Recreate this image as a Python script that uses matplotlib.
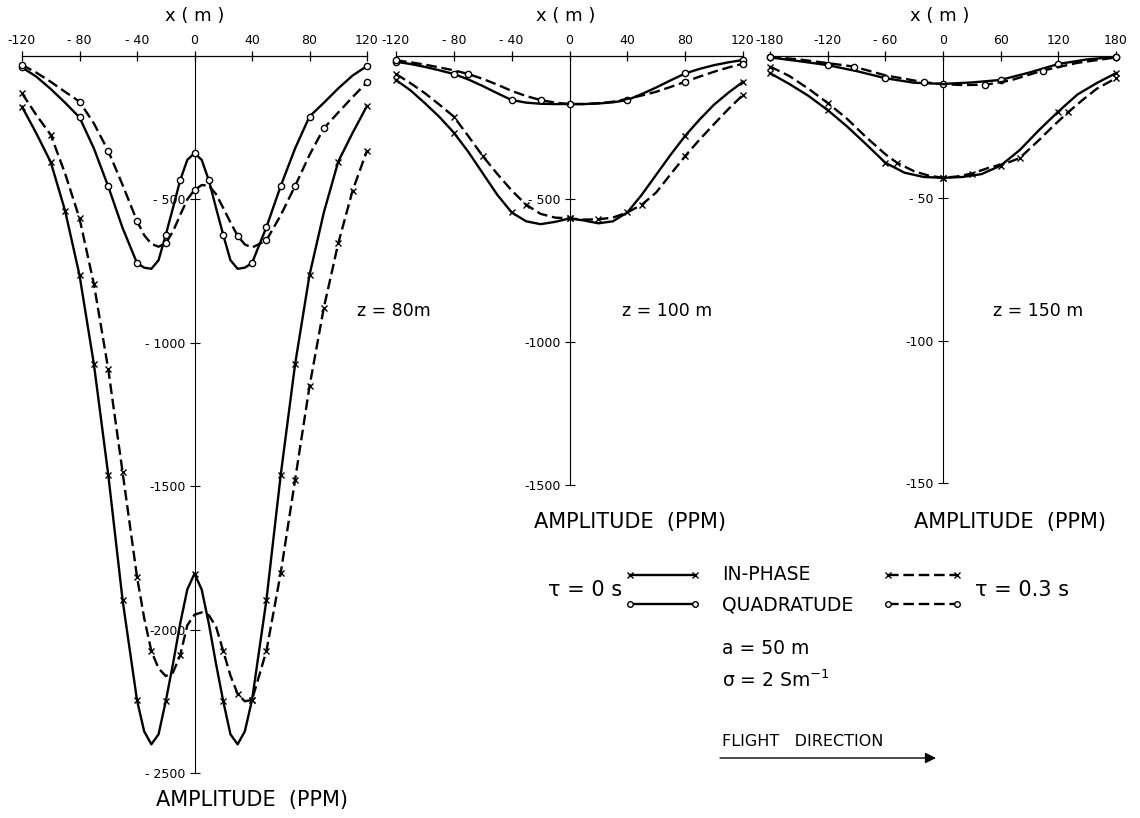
import numpy as np
import matplotlib
matplotlib.use("Agg")
import matplotlib.pyplot as plt

plt.rcParams["font.family"] = ["DejaVu Sans"]

# ---------------- z = 80 m (x in m, amplitude in ppm) ----------------
X80 = [-120, -110, -100, -90, -80, -70, -60, -50, -40, -35, -30, -25, -20, -15, -10, -5,
       0, 5, 10, 15, 20, 25, 30, 35, 40, 50, 60, 70, 80, 90, 100, 110, 120]
IP0_80 = [-177, -270, -370, -540, -764, -1074, -1460, -1898, -2246, -2355, -2400, -2365, -2250,
          -2120, -1980, -1860, -1805, -1860, -1980, -2120, -2250, -2365, -2400, -2355, -2246,
          -1898, -1460, -1074, -764, -545, -368, -268, -174]
IP3_80 = [-130, -206, -275, -410, -566, -795, -1092, -1452, -1816, -1960, -2075, -2135, -2162,
          -2150, -2090, -1985, -1948, -1940, -1950, -1990, -2075, -2160, -2224, -2250, -2245,
          -2075, -1802, -1477, -1152, -877, -653, -469, -330]
QD0_80 = [-40, -72, -115, -163, -214, -322, -455, -600, -722, -738, -742, -712, -624, -530,
          -434, -362, -339, -362, -434, -530, -624, -712, -742, -738, -722, -597, -453, -322,
          -211, -163, -113, -68, -35]
QD3_80 = [-31, -58, -90, -125, -159, -235, -331, -450, -575, -625, -655, -665, -653, -612,
          -555, -500, -467, -450, -452, -482, -530, -580, -627, -657, -668, -643, -555, -453,
          -345, -252, -197, -143, -92]
IP0_80_MK = [-120, -100, -90, -80, -70, -60, -50, -40, -20, 0, 20, 40, 50, 60, 70, 80, 100, 120]
IP3_80_MK = [-120, -100, -80, -70, -60, -50, -40, -30, -10, 20, 30, 40, 50, 60, 70, 80, 90,
             100, 110, 120]
QD0_80_MK = [-120, -80, -60, -40, -20, -10, 0, 10, 20, 40, 50, 60, 80, 120]
QD3_80_MK = [-120, -80, -60, -40, -20, 0, 30, 50, 70, 90, 120]

# ---------------- z = 100 m ----------------
X100 = [-120, -110, -100, -90, -80, -70, -60, -50, -40, -30, -20, -10, 0,
        10, 20, 30, 40, 50, 60, 70, 80, 90, 100, 110, 120]
IP0_100 = [-84, -120, -165, -213, -268, -335, -410, -485, -547, -578, -588, -580, -568,
           -575, -585, -578, -547, -485, -415, -345, -279, -222, -170, -128, -90]
IP3_100 = [-63, -95, -130, -170, -212, -280, -350, -412, -470, -520, -552, -565, -568,
           -572, -571, -565, -547, -520, -477, -413, -350, -292, -238, -185, -136]
QD0_100 = [-20, -28, -38, -50, -63, -82, -105, -130, -154, -163, -167, -168, -168,
           -168, -166, -162, -154, -133, -110, -85, -61, -45, -32, -22, -14]
QD3_100 = [-15, -22, -30, -40, -50, -63, -80, -100, -122, -140, -154, -163, -168,
           -168, -165, -160, -150, -138, -125, -108, -90, -72, -55, -40, -27]
IP0_100_MK = [-120, -80, -40, 0, 40, 80, 120]
IP3_100_MK = [-120, -80, -60, -30, 0, 20, 50, 80, 120]
QD0_100_MK = [-120, -80, -40, 0, 40, 80, 120]
QD3_100_MK = [-120, -70, -20, 80, 120]

# ---------------- z = 150 m ----------------
X150_IP0 = [-180, -160, -140, -120, -100, -80, -60, -40, -20, 0, 20, 40, 60, 80, 100, 120,
            140, 160, 180]
IP0_150 = [-6, -9.8, -14, -19, -24.7, -31, -37.5, -41, -42.5, -42.8, -42.5, -41.5, -38.5,
           -33, -26, -19.5, -13.5, -9.5, -6]
X150_IP3 = [-180, -160, -140, -120, -100, -80, -60, -48, -30, -15, 0, 15, 30, 50, 65, 80,
            100, 115, 130, 145, 160, 180]
IP3_150 = [-3.7, -7, -11.5, -16.5, -22, -28.5, -34.5, -37.5, -40.5, -42, -42.8, -42.3, -41.3,
           -39, -37.8, -35.8, -29.5, -24.5, -19.8, -15.5, -11.5, -7.8]
X150_QD0 = [-180, -150, -120, -90, -60, -30, 0, 30, 60, 90, 120, 150, 180]
QD0_150 = [-0.5, -1.8, -3.2, -5.3, -7.8, -9.4, -9.8, -9.3, -8.4, -5.8, -2.8, -1.2, -0.3]
X150_QD3 = [-180, -150, -120, -93, -60, -20, 0, 20, 44, 70, 104, 140, 180]
QD3_150 = [-0.3, -1.2, -2.5, -3.7, -6.8, -9.2, -9.9, -10.2, -10.1, -8.6, -5.1, -2.4, -0.5]
IP0_150_MK = [-180, -120, -60, 0, 60, 120, 180]
IP3_150_MK = [-180, -120, -48, 0, 30, 80, 130, 180]
QD0_150_MK = [-180, -120, -60, 0, 60, 120, 180]
QD3_150_MK = [-180, -93, -20, 44, 104, 180]

XT_100 = [-120, -80, -40, 0, 40, 80, 120]
XT_100_LBL = ["-120", "- 80", "- 40", "0", "40", "80", "120"]
XT_150 = [-180, -120, -60, 0, 60, 120, 180]
XT_150_LBL = ["-180", "-120", "- 60", "0", "60", "120", "180"]
YT_80 = [-500, -1000, -1500, -2000, -2500]
YT_80_LBL = ["- 500", "- 1000", "-1500", "-2000", "- 2500"]
YT_100 = [-500, -1000, -1500]
YT_100_LBL = ["- 500", "-1000", "-1500"]
YT_150 = [-50, -100, -150]
YT_150_LBL = ["- 50", "-100", "-150"]

W, H = 1140, 818
fig = plt.figure(figsize=(W / 100, H / 100), dpi=100)
fig.patch.set_facecolor("white")


def px_axes(x0, x1, y0, y1):
    """Axes placed by pixel edges (top-left origin)."""
    return fig.add_axes([x0 / W, (H - y1) / H, (x1 - x0) / W, (y1 - y0) / H])


DASH = (0, (4.5, 2.0))
LW = 1.7


def curve(ax, x, y, marks, kind, dashed):
    x = np.asarray(x, float)
    y = np.asarray(y, float)
    idx = list(np.nonzero(np.isin(x, marks))[0])
    style = dict(color="black", lw=LW, clip_on=False, markevery=idx, zorder=3,
                 solid_joinstyle="round", dash_joinstyle="round")
    if kind == "x":
        style.update(marker="x", ms=4.5, mew=1.0)
    else:
        style.update(marker="o", ms=4.5, mew=1.0, mfc="white", mec="black")
    ax.plot(x, y, linestyle=DASH if dashed else "-", **style)


def frame(ax, xlim, ylim, xt, xtl, yt, ytl):
    ax.set_xlim(*xlim)
    ax.set_ylim(*ylim)
    ax.patch.set_alpha(0)
    for s in ("bottom", "right"):
        ax.spines[s].set_visible(False)
    ax.spines["left"].set_position(("data", 0))
    ax.spines["left"].set_linewidth(0.8)
    ax.spines["top"].set_linewidth(0.9)
    ax.xaxis.set_ticks_position("top")
    ax.set_xticks(xt)
    ax.set_xticklabels(xtl)
    ax.set_yticks(yt)
    ax.set_yticklabels(ytl)
    ax.tick_params(axis="x", direction="inout", length=7, width=0.9, pad=3, labelsize=9)
    ax.tick_params(axis="y", direction="inout", length=7, width=0.8, pad=3, labelsize=9)


ax1 = px_axes(22, 367, 56, 773)
frame(ax1, (-120, 120), (-2500, 0), XT_100, XT_100_LBL, YT_80, YT_80_LBL)
curve(ax1, X80, IP0_80, IP0_80_MK, "x", False)
curve(ax1, X80, IP3_80, IP3_80_MK, "x", True)
curve(ax1, X80, QD0_80, QD0_80_MK, "o", False)
curve(ax1, X80, QD3_80, QD3_80_MK, "o", True)

ax2 = px_axes(396, 743, 56, 485)
frame(ax2, (-120, 120), (-1500, 0), XT_100, XT_100_LBL, YT_100, YT_100_LBL)
curve(ax2, X100, IP0_100, IP0_100_MK, "x", False)
curve(ax2, X100, IP3_100, IP3_100_MK, "x", True)
curve(ax2, X100, QD0_100, QD0_100_MK, "o", False)
curve(ax2, X100, QD3_100, QD3_100_MK, "o", True)

ax3 = px_axes(770, 1116, 56, 483)
frame(ax3, (-180, 180), (-150, 0), XT_150, XT_150_LBL, YT_150, YT_150_LBL)
curve(ax3, X150_IP0, IP0_150, IP0_150_MK, "x", False)
curve(ax3, X150_IP3, IP3_150, IP3_150_MK, "x", True)
curve(ax3, X150_QD0, QD0_150, QD0_150_MK, "o", False)
curve(ax3, X150_QD3, QD3_150, QD3_150_MK, "o", True)

# Annotation layer in pixel units
ov = fig.add_axes([0, 0, 1, 1])
ov.set_xlim(0, W)
ov.set_ylim(H, 0)
ov.axis("off")

for cx in (195, 566, 940):
    ov.text(cx, 16, "x ( m )", fontsize=13, ha="center", va="center")

ov.text(357, 311, "z = 80m", fontsize=12.5, ha="left", va="center")
ov.text(622, 311, "z = 100 m", fontsize=12.5, ha="left", va="center")
ov.text(993, 311, "z = 150 m", fontsize=12.5, ha="left", va="center")

ov.text(252, 800, "AMPLITUDE  (PPM)", fontsize=15, ha="center", va="center")
ov.text(630, 522, "AMPLITUDE  (PPM)", fontsize=15, ha="center", va="center")
ov.text(1010, 522, "AMPLITUDE  (PPM)", fontsize=15, ha="center", va="center")

# Legend block
ov.text(548, 590, "τ = 0 s", fontsize=15, ha="left", va="center")
ov.text(975, 590, "τ = 0.3 s", fontsize=15, ha="left", va="center")
ov.plot([630, 695], [575, 575], "-", color="black", lw=LW, marker="x", ms=4, mew=1)
ov.plot([630, 695], [604, 604], "-", color="black", lw=LW, marker="o", ms=4, mew=1,
        mfc="white", mec="black")
ov.plot([888, 957], [575, 575], linestyle=DASH, color="black", lw=LW, marker="x", ms=4, mew=1)
ov.plot([888, 957], [604, 604], linestyle=DASH, color="black", lw=LW, marker="o", ms=4,
        mew=1, mfc="white", mec="black")
ov.text(722, 574, "IN-PHASE", fontsize=13.5, ha="left", va="center")
ov.text(722, 605, "QUADRATUDE", fontsize=13.5, ha="left", va="center")
ov.text(722, 648, "a = 50 m", fontsize=13.5, ha="left", va="center")
ov.text(722, 680, "σ = 2 Sm$^{-1}$", fontsize=13.5, ha="left", va="center")
ov.text(722, 741, "FLIGHT   DIRECTION", fontsize=11.5, ha="left", va="center")
ov.annotate("", xy=(936, 758), xytext=(720, 758),
            arrowprops=dict(arrowstyle="-|>", lw=1.0, color="black", mutation_scale=16,
                            shrinkA=0, shrinkB=0))

fig.savefig("out.png", dpi=100)
